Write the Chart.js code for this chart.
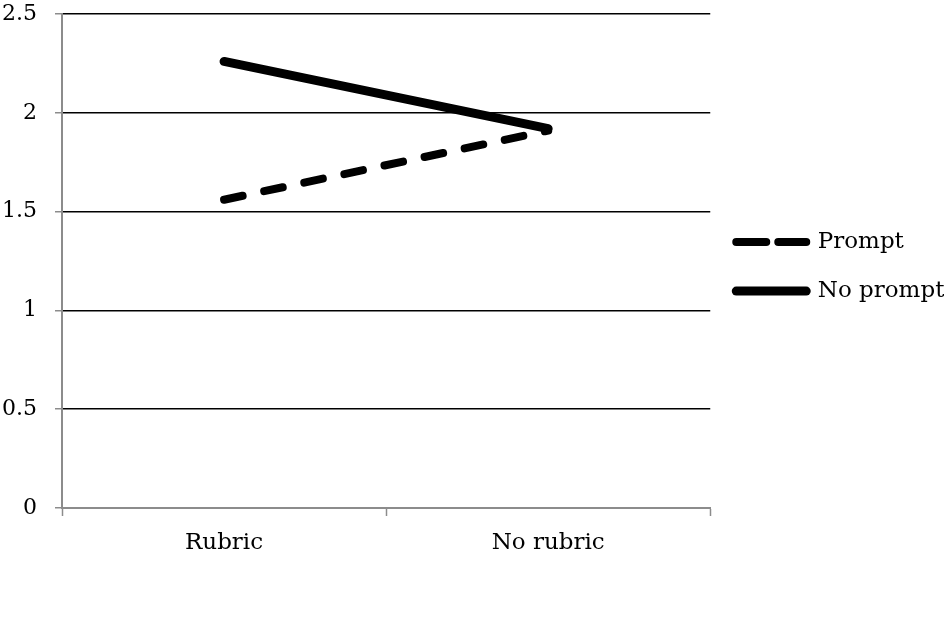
<!DOCTYPE html>
<html>
<head>
<meta charset="utf-8">
<script src="https://cdn.jsdelivr.net/npm/chart.js@4.4.0/dist/chart.umd.min.js"></script>
<style>
  html, body { margin: 0; padding: 0; background: #ffffff; }
  #wrap { width: 944px; height: 620px; }
</style>
</head>
<body>
<div id="wrap"><canvas id="c" width="944" height="620"></canvas></div>
<script>
const categories = ["Rubric", "No rubric"];
const promptValues = [1.56, 1.91];
const noPromptValues = [2.26, 1.92];
const seriesNames = ["Prompt", "No prompt"];
const yTicks = [0, 0.5, 1, 1.5, 2, 2.5];

const FONT = "'DejaVu Serif', 'Liberation Serif', serif";

new Chart(document.getElementById('c'), {
  type: 'line',
  data: {
    labels: categories,
    datasets: [
      {
        label: seriesNames[0],
        data: promptValues,
        borderColor: '#000000',
        backgroundColor: '#000000',
        borderWidth: 8,
        borderDash: [19, 22],
        borderCapStyle: 'round',
        pointRadius: 0,
        tension: 0
      },
      {
        label: seriesNames[1],
        data: noPromptValues,
        borderColor: '#000000',
        backgroundColor: '#000000',
        borderWidth: 9,
        borderCapStyle: 'round',
        pointRadius: 0,
        tension: 0
      }
    ]
  },
  options: {
    responsive: false,
    animation: false,
    devicePixelRatio: 1,
    layout: { padding: { top: 14, left: 0, right: -3, bottom: 52 } },
    plugins: {
      tooltip: { enabled: false },
      legend: {
        position: 'right',
        align: 'center',
        fullSize: false,
        title: {
          display: true,
          text: ' ',
          padding: 2,
          font: { family: FONT, size: 6 }
        },
        labels: {
          usePointStyle: true,
          pointStyle: 'line',
          pointStyleWidth: 70,
          boxHeight: 9,
          padding: 26,
          color: '#000000',
          font: { family: FONT, size: 23 },
          generateLabels(chart) {
            const items = Chart.defaults.plugins.legend.labels.generateLabels(chart);
            items.forEach((it, i) => {
              it.pointStyle = 'line';
              it.lineCap = 'round';
              it.lineWidth = i === 0 ? 8 : 9;
              it.lineDash = i === 0 ? [30, 12] : [];
            });
            return items;
          }
        }
      }
    },
    scales: {
      x: {
        offset: true,
        afterFit(scale) { scale.height = 60; },
        grid: {
          offset: true,
          drawOnChartArea: false,
          drawTicks: true,
          tickLength: 8,
          tickColor: '#8c8c8c',
          tickWidth: 1.5
        },
        border: { color: '#8c8c8c', width: 2 },
        ticks: {
          color: '#000000',
          padding: 13,
          font: { family: FONT, size: 23 }
        }
      },
      y: {
        min: 0,
        max: 2.5,
        afterFit(scale) {
          scale.width = 62;
          scale.paddingTop = 0;
          scale.paddingBottom = 0;
        },
        afterBuildTicks(scale) {
          scale.ticks = yTicks.map(v => ({ value: v }));
        },
        grid: {
          color(ctx) { return ctx.tick && ctx.tick.value === 0 ? 'rgba(0,0,0,0)' : '#000000'; },
          lineWidth: 1.5,
          tickLength: 7,
          tickColor: '#8c8c8c',
          tickWidth: 1.5
        },
        border: { color: '#8c8c8c', width: 2 },
        ticks: {
          color: '#000000',
          padding: 18,
          font: { family: FONT, size: 22 },
          callback(v) { return String(v); }
        }
      }
    }
  }
});
</script>
</body>
</html>
